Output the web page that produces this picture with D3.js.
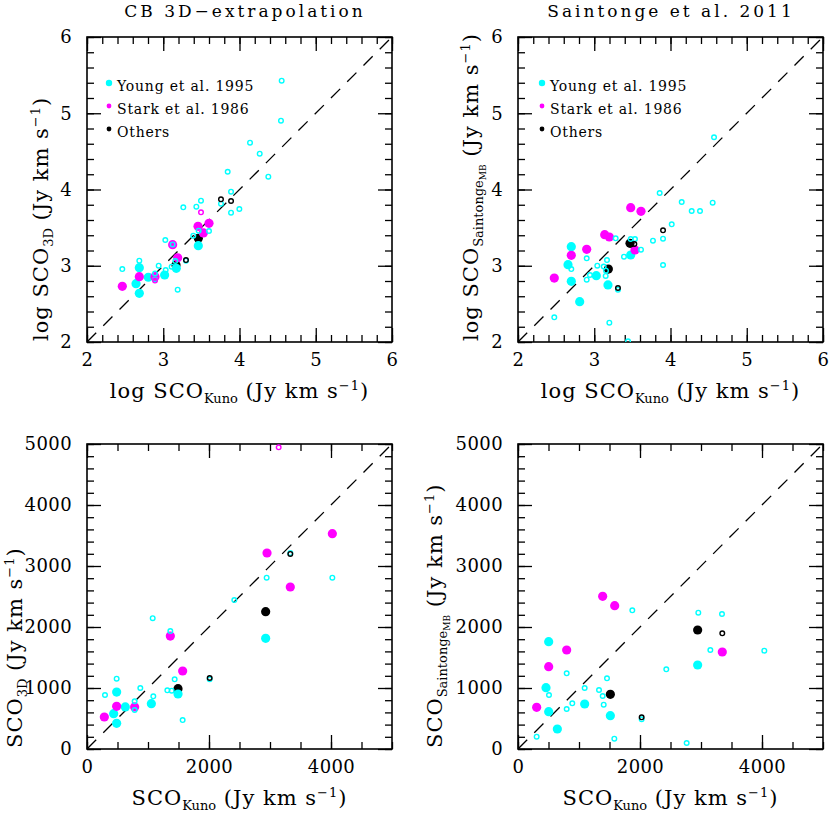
<!DOCTYPE html>
<html>
<head>
<meta charset="utf-8">
<script src="https://cdn.jsdelivr.net/npm/d3@7"></script>
<style>
  body { margin: 0; background: #fff; }
  svg text { font-family: "DejaVu Serif", serif; fill: #000; }
</style>
</head>
<body>
<div id="chart"></div>
<script>
// sources: Y = Young et al. 1995, S = Stark et al. 1986, O = Others
// kind: f = filled, o = open
// [x, y, source, kind]

// top left: log SCO_3D vs log SCO_Kuno
var log3D = [
  [3.167, 3.010, 'O', 'f'], [3.460, 3.360, 'O', 'f'],
  [2.686, 2.975, 'Y', 'f'], [2.643, 2.765, 'Y', 'f'], [2.686, 2.638, 'Y', 'f'],
  [2.804, 2.849, 'Y', 'f'], [3.018, 2.879, 'Y', 'f'], [3.171, 2.966, 'Y', 'f'],
  [3.460, 3.263, 'Y', 'f'],
  [2.463, 2.730, 'S', 'f'], [2.686, 2.857, 'S', 'f'], [2.892, 2.857, 'S', 'f'],
  [3.123, 3.276, 'S', 'f'], [3.189, 3.105, 'S', 'f'], [3.456, 3.517, 'S', 'f'],
  [3.600, 3.557, 'S', 'f'], [3.526, 3.430, 'S', 'f'],
  [4.553, 5.427, 'Y', 'o'], [4.544, 4.902, 'Y', 'o'], [4.138, 4.614, 'Y', 'o'],
  [4.265, 4.470, 'Y', 'o'], [4.378, 4.168, 'Y', 'o'], [3.845, 4.233, 'Y', 'o'],
  [3.889, 3.971, 'Y', 'o'], [3.757, 3.814, 'Y', 'o'], [3.998, 3.744, 'Y', 'o'],
  [3.889, 3.696, 'Y', 'o'], [3.263, 3.766, 'Y', 'o'], [3.434, 3.775, 'Y', 'o'],
  [3.495, 3.853, 'Y', 'o'], [3.600, 3.456, 'Y', 'o'], [3.464, 3.460, 'Y', 'o'],
  [3.394, 3.394, 'Y', 'o'], [3.027, 3.338, 'Y', 'o'], [3.123, 3.280, 'Y', 'o'],
  [3.298, 3.066, 'Y', 'o'], [3.158, 3.062, 'Y', 'o'], [3.110, 2.988, 'Y', 'o'],
  [2.940, 3.001, 'Y', 'o'], [3.032, 2.944, 'Y', 'o'], [2.892, 2.900, 'Y', 'o'],
  [2.892, 2.820, 'Y', 'o'], [2.686, 3.066, 'Y', 'o'], [2.463, 2.957, 'Y', 'o'],
  [3.189, 2.686, 'Y', 'o'],
  [3.495, 3.701, 'S', 'o'], [2.892, 2.805, 'S', 'o'],
  [3.757, 3.871, 'O', 'o'], [3.889, 3.849, 'O', 'o'], [3.298, 3.075, 'O', 'o']
];

// top right: log SCO_Saintonge vs log SCO_Kuno
var logSaint = [
  [2.699, 3.250, 'Y', 'f'], [2.656, 3.014, 'Y', 'f'], [2.699, 2.796, 'Y', 'f'],
  [2.809, 2.529, 'Y', 'f'], [3.027, 2.870, 'Y', 'f'], [3.180, 2.748, 'Y', 'f'],
  [3.478, 3.141, 'Y', 'f'],
  [3.478, 3.762, 'S', 'f'], [3.613, 3.714, 'S', 'f'], [3.137, 3.407, 'S', 'f'],
  [3.198, 3.377, 'S', 'f'], [3.534, 3.207, 'S', 'f'], [2.699, 3.137, 'S', 'f'],
  [2.901, 3.216, 'S', 'f'], [2.476, 2.839, 'S', 'f'],
  [3.469, 3.294, 'O', 'f'], [3.185, 2.957, 'O', 'f'],
  [4.571, 4.685, 'Y', 'o'], [3.858, 3.954, 'Y', 'o'], [4.147, 3.836, 'Y', 'o'],
  [4.553, 3.827, 'Y', 'o'], [4.278, 3.718, 'Y', 'o'], [4.387, 3.718, 'Y', 'o'],
  [4.016, 3.543, 'Y', 'o'], [3.902, 3.355, 'Y', 'o'], [3.770, 3.329, 'Y', 'o'],
  [3.281, 3.360, 'Y', 'o'], [3.478, 3.351, 'Y', 'o'], [3.534, 3.351, 'Y', 'o'],
  [3.613, 3.211, 'Y', 'o'], [3.390, 3.119, 'Y', 'o'], [3.902, 3.010, 'Y', 'o'],
  [2.901, 3.097, 'Y', 'o'], [2.699, 2.957, 'Y', 'o'], [3.167, 3.075, 'Y', 'o'],
  [3.040, 3.001, 'Y', 'o'], [3.124, 2.990, 'Y', 'o'], [3.154, 2.935, 'Y', 'o'],
  [3.150, 2.866, 'Y', 'o'], [2.944, 2.879, 'Y', 'o'], [2.901, 2.817, 'Y', 'o'],
  [3.311, 2.686, 'Y', 'o'], [2.476, 2.324, 'Y', 'o'], [3.198, 2.253, 'Y', 'o'],
  [3.443, 2.009, 'Y', 'o'],
  [3.902, 3.464, 'O', 'o'], [3.526, 3.285, 'O', 'o'], [3.311, 2.708, 'O', 'o']
];

// bottom left: SCO_3D vs SCO_Kuno (Jy km/s)
var lin3D = [
  [2929, 2251, 'O', 'f'], [1492, 989, 'O', 'f'],
  [2929, 1814, 'Y', 'f'], [1492, 902, 'Y', 'f'], [1055, 743, 'Y', 'f'],
  [486, 934, 'Y', 'f'], [628, 689, 'Y', 'f'], [437, 579, 'Y', 'f'],
  [486, 421, 'Y', 'f'],
  [4022, 3530, 'S', 'f'], [2951, 3213, 'S', 'f'], [3333, 2656, 'S', 'f'],
  [1366, 1852, 'S', 'f'], [1568, 1279, 'S', 'f'], [486, 700, 'S', 'f'],
  [781, 689, 'S', 'f'], [284, 525, 'S', 'f'],
  [3333, 3212, 'Y', 'o'], [2945, 2809, 'Y', 'o'], [4022, 2809, 'Y', 'o'],
  [2415, 2443, 'Y', 'o'], [1077, 2145, 'Y', 'o'], [1366, 1934, 'Y', 'o'],
  [1437, 1142, 'Y', 'o'], [2011, 1142, 'Y', 'o'], [1317, 962, 'Y', 'o'],
  [1388, 956, 'Y', 'o'], [1568, 475, 'Y', 'o'], [874, 1000, 'Y', 'o'],
  [1087, 863, 'Y', 'o'], [486, 1153, 'Y', 'o'], [295, 885, 'Y', 'o'],
  [781, 781, 'Y', 'o'], [781, 639, 'Y', 'o'],
  [3142, 4946, 'S', 'o'],
  [3333, 3198, 'O', 'o'], [2011, 1164, 'O', 'o']
];

// bottom right: SCO_Saintonge vs SCO_Kuno (Jy km/s)
var linSaint = [
  [503, 1760, 'Y', 'f'], [459, 1005, 'Y', 'f'], [1093, 738, 'Y', 'f'],
  [503, 612, 'Y', 'f'], [1514, 546, 'Y', 'f'], [645, 328, 'Y', 'f'],
  [2945, 1377, 'Y', 'f'],
  [1388, 2503, 'S', 'f'], [1585, 2350, 'S', 'f'], [798, 1623, 'S', 'f'],
  [503, 1350, 'S', 'f'], [306, 683, 'S', 'f'], [3349, 1590, 'S', 'f'],
  [2945, 1951, 'O', 'f'], [1514, 896, 'O', 'f'],
  [1874, 2273, 'Y', 'o'], [2956, 2235, 'Y', 'o'], [3344, 2213, 'Y', 'o'],
  [3153, 1623, 'Y', 'o'], [4038, 1612, 'Y', 'o'], [2431, 1306, 'Y', 'o'],
  [2765, 98, 'Y', 'o'], [2027, 487, 'Y', 'o'], [798, 1240, 'Y', 'o'],
  [1459, 1158, 'Y', 'o'], [1093, 1000, 'Y', 'o'], [1328, 967, 'Y', 'o'],
  [1388, 869, 'Y', 'o'], [508, 885, 'Y', 'o'], [890, 749, 'Y', 'o'],
  [1405, 727, 'Y', 'o'], [798, 656, 'Y', 'o'], [306, 202, 'Y', 'o'],
  [1579, 169, 'Y', 'o'],
  [3349, 1896, 'O', 'o'], [2027, 519, 'O', 'o']
];

var legendLabels = ['Young et al. 1995', 'Stark et al. 1986', 'Others'];
var legendSources = ['Y', 'S', 'O'];
var titles = ['CB 3D\u2212extrapolation', 'Saintonge et al. 2011'];

var colors = { Y: '#00ffff', S: '#ff00ff', O: '#000000' };
var legendRadius = { Y: 3.2, S: 2.4, O: 2.4 };

var W = 830, H = 813;
var size = 305;
var tickFont = 18, labelFont = 21;

var svg = d3.select('#chart').append('svg')
  .attr('width', W)
  .attr('height', H);

// title
svg.selectAll('text.title')
  .data(titles)
  .enter().append('text')
  .attr('class', 'title')
  .attr('x', function(d, i) { return i === 0 ? 245 : 671; })
  .attr('y', 17)
  .attr('text-anchor', 'middle')
  .style('font-size', '17px')
  .style('letter-spacing', '3px')
  .text(function(d) { return d; });

// writes "pre SCO_sub(_subsub) (Jy km s^-1)" into a text element
function unitLabel(sel, pre, sub, subsub) {
  sel.append('tspan').text(pre + 'SCO');
  sel.append('tspan').attr('dy', 5).style('font-size', '13px').style('letter-spacing', '0px').text(sub);
  var back = 5;
  if (subsub) {
    sel.append('tspan').attr('dy', 3).style('font-size', '9px').style('letter-spacing', '0px').text(subsub);
    back = 8;
  }
  sel.append('tspan').attr('dy', -back).text(' (Jy km s');
  sel.append('tspan').attr('dy', -8).style('font-size', '13px').text('\u22121');
  sel.append('tspan').attr('dy', 8).text(')');
}

function panel(opt) {
  var g = svg.append('g').attr('transform', 'translate(' + opt.left + ',' + opt.top + ')');

  var x = d3.scaleLinear().domain(opt.domain).range([0, size]);
  var y = d3.scaleLinear().domain(opt.domain).range([size, 0]);

  var clipId = 'clip' + opt.id;
  g.append('clipPath').attr('id', clipId)
    .append('rect').attr('width', size).attr('height', size);

  // minor and major ticks on all four sides, pointing inward
  var sides = [
    { axis: d3.axisBottom, s: x, t: 'translate(0,' + size + ')', minor: opt.xMinor, major: opt.xMajor, lab: true },
    { axis: d3.axisTop, s: x, t: null, minor: opt.xMinor, major: opt.xMajor, lab: false },
    { axis: d3.axisLeft, s: y, t: null, minor: opt.yMinor, major: opt.yMajor, lab: true },
    { axis: d3.axisRight, s: y, t: 'translate(' + size + ',0)', minor: opt.yMinor, major: opt.yMajor, lab: false }
  ];
  sides.forEach(function(sd) {
    var gm = g.append('g').attr('transform', sd.t)
      .call(sd.axis(sd.s).tickValues(sd.minor).tickSize(-7).tickFormat(''));
    gm.select('.domain').remove();
    var ga = g.append('g').attr('transform', sd.t)
      .call(sd.axis(sd.s).tickValues(sd.major).tickSize(-14)
        .tickPadding(sd.axis === d3.axisBottom ? 11 : 15)
        .tickFormat(sd.lab ? d3.format('d') : ''));
    ga.select('.domain').remove();
    ga.selectAll('line').attr('stroke', '#000').attr('stroke-width', 1.3);
    gm.selectAll('line').attr('stroke', '#000').attr('stroke-width', 1.3);
    ga.selectAll('text')
      .style('font-family', '"DejaVu Serif", serif')
      .style('font-size', tickFont + 'px')
      .style('letter-spacing', '0.4px')
      .attr('fill', '#000');
  });

  // frame
  g.append('rect')
    .attr('width', size).attr('height', size)
    .attr('fill', 'none').attr('stroke', '#000').attr('stroke-width', 1.6);

  var plot = g.append('g').attr('clip-path', 'url(#' + clipId + ')');

  // one-to-one line
  plot.append('line')
    .attr('x1', x(opt.domain[0])).attr('y1', y(opt.domain[0]))
    .attr('x2', x(opt.domain[1])).attr('y2', y(opt.domain[1]))
    .attr('stroke', '#000').attr('stroke-width', 1.3)
    .attr('stroke-dasharray', '13,10');

  plot.selectAll('circle.pt')
    .data(opt.data)
    .enter().append('circle')
    .attr('class', 'pt')
    .attr('cx', function(d) { return x(d[0]); })
    .attr('cy', function(d) { return y(d[1]); })
    .attr('r', function(d) { return d[3] === 'f' ? 4.6 : 2.3; })
    .attr('fill', function(d) { return d[3] === 'f' ? colors[d[2]] : 'none'; })
    .attr('stroke', function(d) { return d[3] === 'f' ? 'none' : colors[d[2]]; })
    .attr('stroke-width', 1.4);

  if (opt.legend) {
    var lg = g.selectAll('g.leg')
      .data(legendSources)
      .enter().append('g')
      .attr('class', 'leg')
      .attr('transform', function(d, i) { return 'translate(' + opt.legendX + ',' + (46 + i * 23) + ')'; });
    lg.append('circle')
      .attr('r', function(d) { return legendRadius[d]; })
      .attr('fill', function(d) { return colors[d]; });
    lg.append('text')
      .attr('x', 8).attr('y', 8)
      .style('font-size', '14px')
      .style('letter-spacing', '0.8px')
      .text(function(d, i) { return legendLabels[i]; });
  }

  // axis labels
  var xl = g.append('text')
    .attr('x', size / 2)
    .attr('y', opt.xLabelY)
    .attr('text-anchor', 'middle')
    .style('font-size', labelFont + 'px')
    .style('letter-spacing', '1px');
  unitLabel(xl, opt.pre, 'Kuno');

  var yl = g.append('text')
    .attr('transform', 'translate(' + opt.yLabelX + ',' + (size - 1) + ') rotate(-90)')
    .attr('text-anchor', 'start')
    .style('font-size', labelFont + 'px')
    .style('letter-spacing', '1px');
  unitLabel(yl, opt.pre, opt.ySub, opt.ySubSub);
}

var logMinor = d3.range(2, 6.001, 0.2);
var logMajor = [2, 3, 4, 5, 6];

panel({ id: 'tl', left: 87, top: 37, domain: [2, 6], data: log3D,
  xMinor: logMinor, xMajor: logMajor, yMinor: logMinor, yMajor: logMajor,
  legend: true, legendX: 22, pre: 'log ', ySub: '3D', xLabelY: 361, yLabelX: -39 });
panel({ id: 'tr', left: 518, top: 37, domain: [2, 6], data: logSaint,
  xMinor: logMinor, xMajor: logMajor, yMinor: logMinor, yMajor: logMajor,
  legend: true, legendX: 24, pre: 'log ', ySub: 'Saintonge', ySubSub: 'MB', xLabelY: 361, yLabelX: -40 });
panel({ id: 'bl', left: 87, top: 444, domain: [0, 5000], data: lin3D,
  xMinor: d3.range(0, 5001, 500), xMajor: [0, 2000, 4000],
  yMinor: d3.range(0, 5001, 200), yMajor: [0, 1000, 2000, 3000, 4000, 5000],
  legend: false, pre: '', ySub: '3D', xLabelY: 361, yLabelX: -65 });
panel({ id: 'br', left: 518, top: 444, domain: [0, 5000], data: linSaint,
  xMinor: d3.range(0, 5001, 500), xMajor: [0, 2000, 4000],
  yMinor: d3.range(0, 5001, 200), yMajor: [0, 1000, 2000, 3000, 4000, 5000],
  legend: false, pre: '', ySub: 'Saintonge', ySubSub: 'MB', xLabelY: 361, yLabelX: -76 });
</script>
</body>
</html>
